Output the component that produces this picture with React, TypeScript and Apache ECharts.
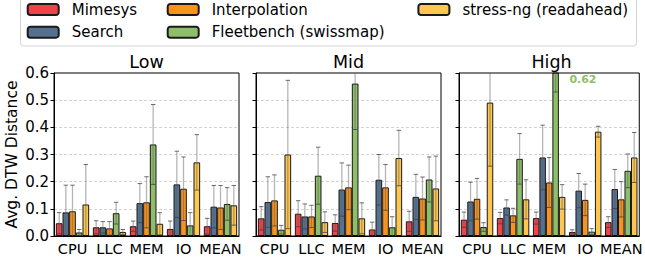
import React, { useEffect, useRef } from "react";
import * as echarts from "echarts";

const categories = ["CPU", "LLC", "MEM", "IO", "MEAN"];
const seriesNames = ["Mimesys", "Search", "Interpolation", "Fleetbench (swissmap)", "stress-ng (readahead)"];
const panelTitles = ["Low", "Mid", "High"];
const yTicks = [0, 0.1, 0.2, 0.3, 0.4, 0.5, 0.6];

// rows: series (Mimesys, Search, Interpolation, Fleetbench, stress-ng); cols: categories
const lowValues = [
  [0.047, 0.032, 0.036, 0.026, 0.036],
  [0.087, 0.032, 0.121, 0.19, 0.108],
  [0.091, 0.028, 0.124, 0.174, 0.105],
  [0.013, 0.084, 0.337, 0.039, 0.118],
  [0.116, 0.015, 0.045, 0.271, 0.113],
];
const lowStd = [
  [0.039, 0.024, 0.019, 0.029, 0.029],
  [0.1, 0.021, 0.072, 0.122, 0.078],
  [0.096, 0.025, 0.094, 0.117, 0.081],
  [0.011, 0.04, 0.147, 0.047, 0.06],
  [0.147, 0.009, 0.041, 0.102, 0.073],
];
const midValues = [
  [0.065, 0.082, 0.048, 0.024, 0.054],
  [0.125, 0.072, 0.171, 0.207, 0.144],
  [0.131, 0.072, 0.179, 0.179, 0.138],
  [0.023, 0.222, 0.561, 0.032, 0.208],
  [0.3, 0.051, 0.065, 0.287, 0.175],
];
const midStd = [
  [0.043, 0.048, 0.03, 0.027, 0.037],
  [0.093, 0.046, 0.098, 0.093, 0.083],
  [0.094, 0.041, 0.082, 0.084, 0.079],
  [0.016, 0.105, 0.169, 0.039, 0.083],
  [0.273, 0.038, 0.057, 0.102, 0.119],
];
const highValues = [
  [0.06, 0.066, 0.066, 0.015, 0.051],
  [0.127, 0.105, 0.289, 0.167, 0.173],
  [0.137, 0.076, 0.197, 0.133, 0.135],
  [0.033, 0.284, 0.62, 0.016, 0.24],
  [0.491, 0.135, 0.144, 0.384, 0.289],
];
const highStd = [
  [0.028, 0.021, 0.022, 0.008, 0.02],
  [0.071, 0.028, 0.119, 0.063, 0.072],
  [0.075, 0.026, 0.092, 0.058, 0.065],
  [0.016, 0.093, 0.09, 0.011, 0.062],
  [0.234, 0.072, 0.045, 0.02, 0.092],
];

const panelValues = [lowValues, midValues, highValues];
const panelStd = [lowStd, midStd, highStd];

const colors = ["#EF424A", "#55718F", "#F7931E", "#8EBE6A", "#FCC650"];
const FONT = "DejaVu Sans";
const YMAX = yTicks[yTicks.length - 1];

const gridLefts = [54, 256, 459];
const gridW = 185;
const gridTop = 73;
const gridH = 163;

export default function App() {
  const ref = useRef<HTMLDivElement>(null);
  useEffect(() => {
    document.body.style.margin = "0";
    const chart = echarts.init(ref.current!, undefined, { renderer: "svg" });

    const grids: any[] = [];
    const xAxes: any[] = [];
    const yAxes: any[] = [];
    const series: any[] = [];
    const titles: any[] = [];

    for (let p = 0; p < 3; p++) {
      grids.push({
        left: gridLefts[p],
        top: gridTop,
        width: gridW,
        height: gridH,
        show: true,
        borderColor: "#000",
        borderWidth: 1,
        backgroundColor: "transparent",
        z: 3,
      });
      titles.push({
        text: panelTitles[p],
        left: gridLefts[p] + gridW / 2,
        top: 52.5,
        textAlign: "center",
        padding: 0,
        textStyle: { fontSize: 17.5, fontWeight: "normal", color: "#000", fontFamily: FONT },
      });
      xAxes.push({
        type: "category",
        gridIndex: p,
        data: categories,
        axisLine: { lineStyle: { color: "#000", width: 1 } },
        axisTick: { alignWithLabel: true, length: 3.5, lineStyle: { color: "#000" } },
        axisLabel: { interval: 0, fontSize: 14.5, color: "#000", fontFamily: FONT, margin: 5 },
      });
      yAxes.push({
        type: "value",
        gridIndex: p,
        min: 0,
        max: YMAX,
        interval: 0.1,
        name: p === 0 ? "Avg. DTW Distance" : "",
        nameLocation: "middle",
        nameGap: 34,
        nameTextStyle: { fontSize: 15.5, color: "#000", fontFamily: FONT },
        axisLine: { show: true, lineStyle: { color: "#000", width: 1 } },
        axisTick: { show: true, length: 3.5, lineStyle: { color: "#000" } },
        axisLabel: {
          show: p === 0,
          fontSize: 15,
          color: "#000",
          fontFamily: FONT,
          margin: 5,
          formatter: (v: number) => v.toFixed(1),
        },
        splitLine: {
          show: true,
          showMinLine: false,
          showMaxLine: false,
          lineStyle: { color: "#c8c8c8", type: [3, 2], width: 0.8 },
        },
      });

      const vals = panelValues[p];
      const stds = panelStd[p];
      for (let s = 0; s < 5; s++) {
        const data = vals[s].map((v) => {
          if (v > YMAX) {
            return {
              value: v,
              label: {
                show: true,
                position: [17, 7],
                align: "left",
                verticalAlign: "middle",
                formatter: () => v.toFixed(2),
                color: colors[s],
                fontWeight: "bold",
                fontSize: 11,
                fontFamily: FONT,
              },
            };
          }
          return v;
        });
        series.push({
          type: "bar",
          name: seriesNames[s],
          xAxisIndex: p,
          yAxisIndex: p,
          data,
          barGap: "0%",
          barCategoryGap: "10%",
          clip: true,
          itemStyle: { color: colors[s], borderColor: "#1a1a1a", borderWidth: 1 },
          emphasis: { disabled: true },
          z: 2,
        });
        const errData = vals[s].map((v, j) => [j, v - stds[s][j], v + stds[s][j]]);
        const si = s;
        series.push({
          type: "custom",
          name: seriesNames[s] + " err",
          xAxisIndex: p,
          yAxisIndex: p,
          data: errData,
          encode: { x: 0, y: [1, 2] },
          clip: true,
          z: 5,
          silent: true,
          renderItem: (params: any, api: any) => {
            const j = api.value(0);
            const lo = api.coord([j, api.value(1)]);
            const hi = api.coord([j, api.value(2)]);
            const bw = (api.size([1, 0])[0] * 0.9) / 5;
            const x = lo[0] + (si - 2) * bw;
            const cap = 2.2;
            return {
              type: "group",
              children: [
                {
                  type: "line",
                  shape: { x1: x, y1: lo[1], x2: x, y2: hi[1] },
                  style: { stroke: "rgba(90,90,90,0.45)", lineWidth: 1.3 },
                },
                {
                  type: "line",
                  shape: { x1: x - cap, y1: hi[1], x2: x + cap, y2: hi[1] },
                  style: { stroke: "rgba(60,60,60,0.75)", lineWidth: 1 },
                },
                {
                  type: "line",
                  shape: { x1: x - cap, y1: lo[1], x2: x + cap, y2: lo[1] },
                  style: { stroke: "rgba(60,60,60,0.75)", lineWidth: 1 },
                },
              ],
            };
          },
        });
      }
    }

    const legendBase = {
      orient: "vertical",
      top: 2,
      padding: 0,
      itemWidth: 31,
      itemHeight: 11,
      itemGap: 7.7,
      selectedMode: false,
      textStyle: { fontSize: 15, lineHeight: 15, color: "#000", fontFamily: FONT, padding: [0, 0, 0, 8] },
    };

    chart.setOption({
      animation: false,
      textStyle: { fontFamily: FONT },
      title: titles,
      grid: grids,
      xAxis: xAxes,
      yAxis: yAxes,
      legend: [
        { ...legendBase, left: 26.7, data: [seriesNames[0], seriesNames[1]] },
        { ...legendBase, left: 166.7, data: [seriesNames[2], seriesNames[3]] },
        { ...legendBase, left: 417.4, data: [seriesNames[4]] },
      ],
      graphic: [
        {
          type: "rect",
          z: -10,
          shape: { x: 20.5, y: -6, width: 616, height: 52, r: 3 },
          style: { fill: "#fff", stroke: "#d4d4d4", lineWidth: 1 },
          silent: true,
        },
      ],
      series,
    });
    return () => chart.dispose();
  }, []);
  return <div ref={ref} style={{ width: 645, height: 262 }} />;
}
